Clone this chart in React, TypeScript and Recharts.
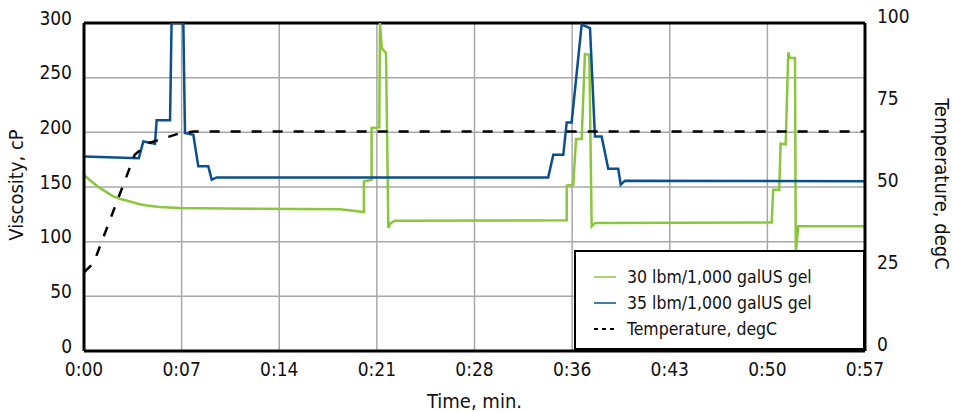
import {
  LineChart,
  Line,
  XAxis,
  YAxis,
  CartesianGrid,
  ReferenceLine,
  Legend,
} from "recharts";

const FONT = '"Liberation Sans Narrow", "DejaVu Sans Condensed", "Roboto", sans-serif';
const GREEN = "#8cc63f";
const BLUE = "#0b4f8c";

// axis ticks
const tickLabels = ["0:00", "0:07", "0:14", "0:21", "0:28", "0:36", "0:43", "0:50", "0:57"];
const timeMax = 57;
const viscTicks = [0, 50, 100, 150, 200, 250, 300];
const tempTicks = [0, 25, 50, 75, 100];

// 30 lbm/1,000 galUS gel
const gel30Time = [
  0, 0.5, 1.0, 1.5, 2.14, 2.8, 3.36, 4.0, 4.58, 5.5, 7.0, 12.0, 18.7, 20.43, 20.43, 20.99,
  20.99, 21.55, 21.6, 21.73, 22.04, 22.21, 22.38, 22.7, 35.23, 35.23, 35.71, 35.91, 36.32,
  36.56, 36.88, 37.05, 37.29, 50.19, 50.3, 50.74, 50.84, 51.21, 51.4, 51.52, 51.89, 51.95,
  52.13, 57,
];
const gel30Visc = [
  161, 155.5, 150.5, 146.5, 141.4, 138.5, 136.8, 134.5, 133, 131.8, 130.8, 130.2, 129.6,
  127.1, 155.1, 156.7, 204, 204.5, 300, 277, 272.6, 112.5, 117, 119.2, 119.5, 151.2, 152.1,
  193.9, 193.9, 271.6, 271, 114, 117.1, 117.6, 147.5, 147.5, 189.6, 189, 273.1, 268, 268,
  90, 114, 114,
];

// 35 lbm/1,000 galUS gel
const gel35Time = [
  0, 4.0, 4.33, 5.18, 5.3, 6.28, 6.39, 7.25, 7.37, 7.98, 8.34, 9.07, 9.32, 9.68,
  33.88, 34.25, 34.98, 35.23, 35.59, 36.32, 36.93, 37.29, 37.78, 38.26, 38.99, 39.17, 39.48, 57,
];
const gel35Visc = [
  178, 176.3, 191.7, 189.5, 211, 211, 300, 300, 199.4, 197.8, 168.9, 168.9, 156.7, 158.8,
  158.8, 179.5, 179.5, 209.1, 209.1, 298.5, 295.4, 196.3, 196.3, 166.7, 166.7, 152.1, 155.8, 155.3,
];

// Temperature, degC
const tempTime = [0, 0.7, 3.7, 4.7, 5.5, 7.0, 8.0, 57];
const tempDegC = [24, 26.8, 59.8, 63.4, 64.4, 66.4, 66.9, 66.9];

const zip = (t: number[], v: number[]) => t.map((time, i) => ({ time, value: v[i] }));

const gel30Data = zip(gel30Time, gel30Visc);
const gel35Data = zip(gel35Time, gel35Visc);
const tempData = zip(tempTime, tempDegC);
const xTicks = tickLabels.map((_, i) => (i * timeMax) / (tickLabels.length - 1));

const legendItems = [
  { label: "30 lbm/1,000 galUS gel", color: GREEN, dash: undefined as string | undefined },
  { label: "35 lbm/1,000 galUS gel", color: BLUE, dash: undefined as string | undefined },
  { label: "Temperature, degC", color: "#000", dash: "4 4" },
];

const LegendBox = () => (
  <div
    style={{
      width: 291,
      height: 100,
      border: "2px solid #000",
      background: "#fff",
      fontFamily: FONT,
      fontSize: 17.5,
      color: "#111",
      paddingTop: 12,
      boxSizing: "border-box",
    }}
  >
    {legendItems.map((item) => (
      <div key={item.label} style={{ display: "flex", alignItems: "center", height: 26 }}>
        <svg width={50} height={10} style={{ marginLeft: 16 }}>
          <line
            x1={2}
            x2={24}
            y1={5}
            y2={5}
            stroke={item.color}
            strokeWidth={item.dash ? 1.8 : 1.5}
            strokeDasharray={item.dash}
          />
        </svg>
        <span style={{ marginLeft: -15 }}>{item.label}</span>
      </div>
    ))}
  </div>
);

const titleStyle = { fontFamily: FONT, fontSize: 20, fill: "#111" };

const App = () => {
  return (
    <div style={{ position: "absolute", left: 0, top: 0, background: "#fff" }}>
      <LineChart width={953} height={412} margin={{ top: 23, right: 0, bottom: 0, left: 0 }}>
        <CartesianGrid yAxisId="left" stroke="#a8a8a8" strokeWidth={1.5} />

        <XAxis
          dataKey="time"
          type="number"
          domain={[0, timeMax]}
          ticks={xTicks}
          interval={0}
          allowDataOverflow
          tickFormatter={(_v: number, i: number) => tickLabels[i]}
          height={61}
          tickLine={false}
          tickSize={0}
          tickMargin={12}
          tick={{ fontFamily: FONT, fontSize: 19, fill: "#111" }}
          axisLine={{ stroke: "#000", strokeWidth: 3 }}
          label={{
            content: ({ viewBox }: any) => (
              <text
                x={viewBox.x + viewBox.width / 2}
                y={viewBox.y + 50}
                dy="0.35em"
                textAnchor="middle"
                style={titleStyle}
              >
                Time, min.
              </text>
            ),
          }}
        />

        <YAxis
          yAxisId="left"
          domain={[0, 300]}
          ticks={viscTicks}
          interval={0}
          allowDataOverflow
          width={84}
          tickLine={false}
          tickSize={0}
          tickMargin={12}
          tick={{ fontFamily: FONT, fontSize: 19, fill: "#111", dy: -5 }}
          axisLine={{ stroke: "#000", strokeWidth: 3 }}
          label={{
            content: ({ viewBox }: any) => {
              const cx = viewBox.x + 16;
              const cy = viewBox.y + viewBox.height / 2 - 2;
              return (
                <text
                  x={cx}
                  y={cy}
                  dy="0.35em"
                  textAnchor="middle"
                  transform={`rotate(-90 ${cx} ${cy})`}
                  style={titleStyle}
                >
                  Viscosity, cP
                </text>
              );
            },
          }}
        />

        <YAxis
          yAxisId="right"
          orientation="right"
          domain={[0, 100]}
          ticks={tempTicks}
          interval={0}
          width={88}
          tickLine={false}
          tickSize={0}
          tickMargin={12}
          tick={{ fontFamily: FONT, fontSize: 19, fill: "#111", dy: -7 }}
          axisLine={{ stroke: "#000", strokeWidth: 3 }}
          label={{
            content: ({ viewBox }: any) => {
              const cx = viewBox.x + 77;
              const cy = viewBox.y + viewBox.height / 2 - 3;
              return (
                <text
                  x={cx}
                  y={cy}
                  dy="0.35em"
                  textAnchor="middle"
                  transform={`rotate(90 ${cx} ${cy})`}
                  style={titleStyle}
                >
                  Temperature, degC
                </text>
              );
            },
          }}
        />

        <ReferenceLine yAxisId="left" y={300} stroke="#000" strokeWidth={3} />

        <Line
          yAxisId="left"
          data={gel30Data}
          dataKey="value"
          type="linear"
          stroke={GREEN}
          strokeWidth={2.5}
          dot={false}
          activeDot={false}
          isAnimationActive={false}
        />
        <Line
          yAxisId="left"
          data={gel35Data}
          dataKey="value"
          type="linear"
          stroke={BLUE}
          strokeWidth={2.5}
          dot={false}
          activeDot={false}
          isAnimationActive={false}
        />
        <Line
          yAxisId="right"
          data={tempData}
          dataKey="value"
          type="linear"
          stroke="#000"
          strokeWidth={2.5}
          strokeDasharray="10 11"
          dot={false}
          activeDot={false}
          isAnimationActive={false}
        />

        <Legend
          layout="horizontal"
          verticalAlign="middle"
          align="center"
          content={() => <LegendBox />}
          wrapperStyle={{ position: "absolute", left: 574, top: 250, width: 291, height: 100 }}
        />
      </LineChart>
    </div>
  );
};

export default App;
